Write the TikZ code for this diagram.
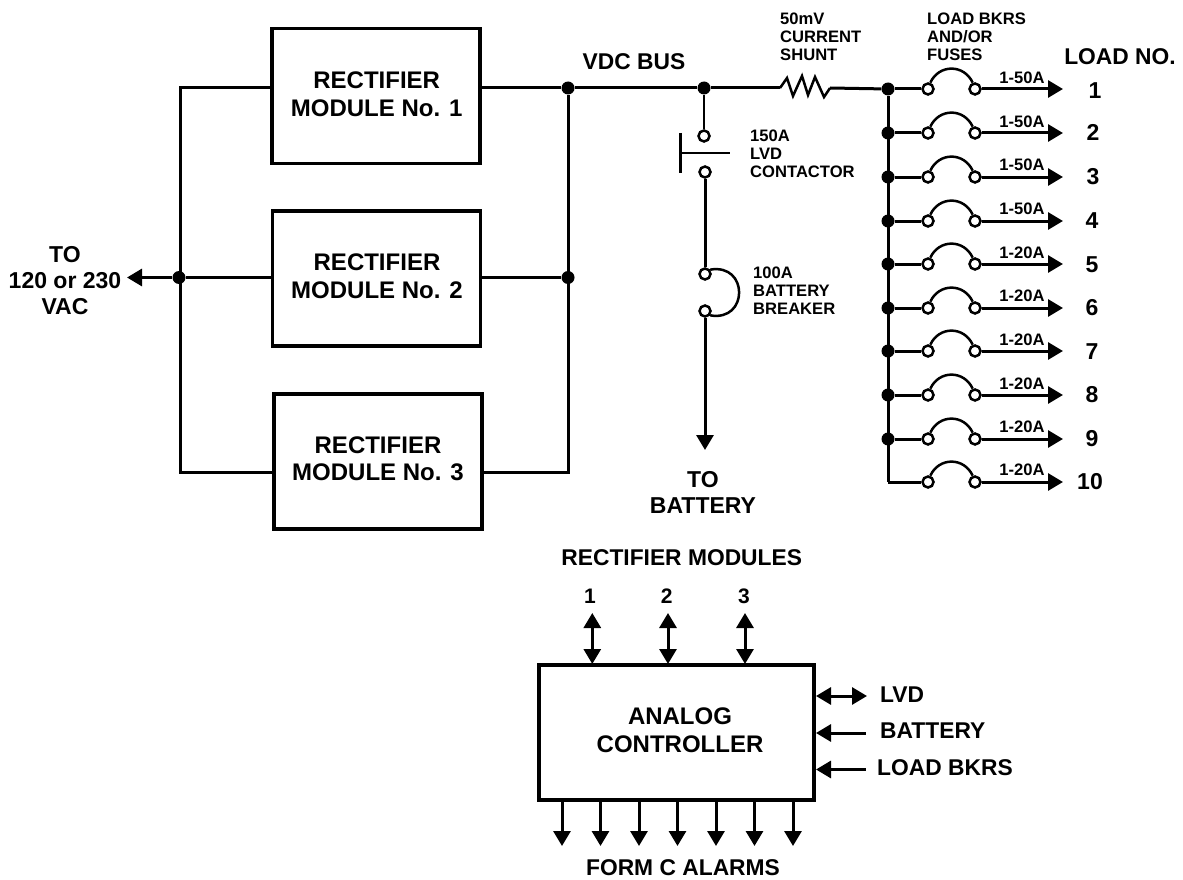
\documentclass[tikz,border=0pt]{standalone}
\usepackage{fontspec}
\setmainfont{Liberation Sans}
\usetikzlibrary{arrows.meta}

\tikzset{
  bigtxt/.style={font=\bfseries\fontsize{23}{26}\selectfont,inner sep=0pt,align=center},
  boxtxt/.style={font=\bfseries\fontsize{24}{27.5}\selectfont,inner sep=0pt,align=center},
  midtxt/.style={font=\bfseries\fontsize{22.8}{26}\selectfont,inner sep=0pt,align=center},
  numtxt/.style={font=\bfseries\fontsize{21}{24}\selectfont,inner sep=0pt},
  smalltxt/.style={font=\bfseries\fontsize{16.6}{18}\selectfont,inner sep=0pt,align=left,anchor=west},
  amptxt/.style={font=\bfseries\fontsize{16.6}{18}\selectfont,inner sep=0pt},
  modbox/.style={draw,line width=3.3pt,inner sep=0pt},
  jdot/.style={circle,fill=black,minimum size=13pt,inner sep=0pt},
  term/.style={circle,draw,line width=2.5pt,minimum size=11pt,inner sep=0pt},
  wire/.style={line width=3pt},
  thin wire/.style={line width=2.5pt},
  >={Triangle[length=15pt,width=17pt]}
}

\begin{document}
\begin{tikzpicture}[x=1pt,y=1pt]
\useasboundingbox (0,0) rectangle (1183,-880);
% rectifier modules
\node [modbox,minimum width=208pt,minimum height=135pt] (mod1) at (376,-96) {};
\node [modbox,minimum width=208pt,minimum height=135pt] (mod2) at (376.5,-278.5) {};
\node [modbox,minimum width=208pt,minimum height=135pt] (mod3) at (378,-461.5) {};
\node [boxtxt] (modtxt1) at (376.7,-94) {RECTIFIER\\MODULE No. 1};
\node [boxtxt] (modtxt2) at (377,-276) {RECTIFIER\\MODULE No. 2};
\node [boxtxt] (modtxt3) at (378,-458.7) {RECTIFIER\\MODULE No. 3};
\coordinate (m1w) at (272,-88);
\coordinate (m2w) at (272,-277.5);
\coordinate (m3w) at (274,-472);
\coordinate (m1e) at (480,-88);
\coordinate (m2e) at (480.5,-277.5);
\coordinate (m3e) at (482,-472);
\coordinate (acT) at (180,-88);
\coordinate (acB) at (180,-472);
\coordinate (dcB) at (568,-472);
\coordinate (acTip) at (127,-277.5);
\node [jdot] (jac) at (179,-277.5) {};
\node [jdot] (jdc1) at (568,-88) {};
\node [jdot] (jdc2) at (568,-277.5) {};
\draw [wire] (m1w) -- (acT) -- (acB) -- (m3w);
\draw [wire] (jac) -- (m2w);
\draw [wire,->] (jac) -- (acTip);
\draw [wire] (m1e) -- (jdc1);
\draw [wire] (jdc1) -- (dcB) -- (m3e);
\draw [wire] (jdc2) -- (m2e);
\node [bigtxt] (ac) at (65,-280.5) {TO\\120 or 230\\VAC};
\node [midtxt] (vdc) at (634,-62) {VDC BUS};
% shunt
\node [jdot] (jlvd) at (704,-88) {};
\node [jdot] (j1) at (888,-89) {};
\coordinate (shL) at (780,-88);
\coordinate (shR) at (830,-88);
\draw [wire] (jdc1) -- (jlvd);
\draw [wire] (jlvd) -- (shL);
\draw [thin wire] (shL) -- (787,-78) -- (793,-96) -- (802,-76) -- (808,-95) -- (815,-77) -- (824,-97) -- (shR);
\draw [wire] (shR) -- (j1);
\node [smalltxt] (shtxt) at (780,-37) {50mV\\CURRENT\\SHUNT};
% battery branch
\node [term] (lvdA) at (704,-136) {};
\node [term] (lvdB) at (705,-172) {};
\node [term] (brkA) at (705,-274) {};
\node [term] (brkB) at (705,-311) {};
\coordinate (barT) at (680,-133);
\coordinate (barB) at (680,-173);
\coordinate (barM) at (680,-153);
\coordinate (barE) at (730,-153);
\coordinate (batTip) at (705,-450);
\draw [thin wire] (jlvd) -- (lvdA);
\draw [wire] (barT) -- (barB);
\draw [thin wire] (barM) -- (barE);
\draw [wire] (lvdB) -- (brkA);
\draw [thin wire] (brkA.40) to [out=10,in=-10,looseness=2.2] (brkB.-40);
\draw [wire,->] (brkB) -- (batTip);
\node [smalltxt] (lvdtxt) at (750,-154) {150A\\LVD\\CONTACTOR};
\node [smalltxt] (brktxt) at (753,-291) {100A\\BATTERY\\BREAKER};
\node [bigtxt] (battxt) at (703,-492) {TO\\BATTERY};
% load breakers
\node [smalltxt] (bkrtxt) at (927,-37) {LOAD BKRS\\AND/OR\\FUSES};
\node [midtxt] (loadtxt) at (1120,-57) {LOAD NO.};
\node [jdot] (j2) at (888,-133) {};
\node [jdot] (j3) at (888,-177) {};
\node [jdot] (j4) at (888,-221) {};
\node [jdot] (j5) at (888,-264) {};
\node [jdot] (j6) at (888,-308) {};
\node [jdot] (j7) at (888,-351) {};
\node [jdot] (j8) at (888,-395) {};
\node [jdot] (j9) at (888,-439) {};
\coordinate (j10) at (888,-482);
\draw [wire] (j1) -- (j10);
\node [term] (a1) at (928,-89) {};
\node [term] (b1) at (975,-89) {};
\coordinate (t1) at (1063,-89);
\draw [wire] (j1) -- (a1);
\draw [thin wire] (a1.70) to [out=65,in=115,looseness=1.25] (b1.110);
\draw [wire,->] (b1) -- (t1);
\node [amptxt] (amp1) at (1022,-78) {1-50A};
\node [bigtxt] (n1) at (1095,-91) {1};
\node [term] (a2) at (928,-133) {};
\node [term] (b2) at (975,-133) {};
\coordinate (t2) at (1063,-133);
\draw [wire] (j2) -- (a2);
\draw [thin wire] (a2.70) to [out=65,in=115,looseness=1.25] (b2.110);
\draw [wire,->] (b2) -- (t2);
\node [amptxt] (amp2) at (1022,-122) {1-50A};
\node [bigtxt] (n2) at (1093,-132) {2};
\node [term] (a3) at (928,-177) {};
\node [term] (b3) at (975,-177) {};
\coordinate (t3) at (1063,-177);
\draw [wire] (j3) -- (a3);
\draw [thin wire] (a3.70) to [out=65,in=115,looseness=1.25] (b3.110);
\draw [wire,->] (b3) -- (t3);
\node [amptxt] (amp3) at (1022,-165) {1-50A};
\node [bigtxt] (n3) at (1093,-177) {3};
\node [term] (a4) at (928,-221) {};
\node [term] (b4) at (975,-221) {};
\coordinate (t4) at (1063,-221);
\draw [wire] (j4) -- (a4);
\draw [thin wire] (a4.70) to [out=65,in=115,looseness=1.25] (b4.110);
\draw [wire,->] (b4) -- (t4);
\node [amptxt] (amp4) at (1022,-209) {1-50A};
\node [bigtxt] (n4) at (1092,-221) {4};
\node [term] (a5) at (928,-264) {};
\node [term] (b5) at (975,-264) {};
\coordinate (t5) at (1063,-264);
\draw [wire] (j5) -- (a5);
\draw [thin wire] (a5.70) to [out=65,in=115,looseness=1.25] (b5.110);
\draw [wire,->] (b5) -- (t5);
\node [amptxt] (amp5) at (1022,-253) {1-20A};
\node [bigtxt] (n5) at (1092,-265) {5};
\node [term] (a6) at (928,-308) {};
\node [term] (b6) at (975,-308) {};
\coordinate (t6) at (1063,-308);
\draw [wire] (j6) -- (a6);
\draw [thin wire] (a6.70) to [out=65,in=115,looseness=1.25] (b6.110);
\draw [wire,->] (b6) -- (t6);
\node [amptxt] (amp6) at (1022,-296) {1-20A};
\node [bigtxt] (n6) at (1092,-308) {6};
\node [term] (a7) at (928,-351) {};
\node [term] (b7) at (975,-351) {};
\coordinate (t7) at (1063,-351);
\draw [wire] (j7) -- (a7);
\draw [thin wire] (a7.70) to [out=65,in=115,looseness=1.25] (b7.110);
\draw [wire,->] (b7) -- (t7);
\node [amptxt] (amp7) at (1022,-340) {1-20A};
\node [bigtxt] (n7) at (1092,-352) {7};
\node [term] (a8) at (928,-395) {};
\node [term] (b8) at (975,-395) {};
\coordinate (t8) at (1063,-395);
\draw [wire] (j8) -- (a8);
\draw [thin wire] (a8.70) to [out=65,in=115,looseness=1.25] (b8.110);
\draw [wire,->] (b8) -- (t8);
\node [amptxt] (amp8) at (1022,-384) {1-20A};
\node [bigtxt] (n8) at (1092,-395) {8};
\node [term] (a9) at (928,-439) {};
\node [term] (b9) at (975,-439) {};
\coordinate (t9) at (1063,-439);
\draw [wire] (j9) -- (a9);
\draw [thin wire] (a9.70) to [out=65,in=115,looseness=1.25] (b9.110);
\draw [wire,->] (b9) -- (t9);
\node [amptxt] (amp9) at (1022,-427) {1-20A};
\node [bigtxt] (n9) at (1092,-439) {9};
\node [term] (a10) at (928,-482) {};
\node [term] (b10) at (975,-482) {};
\coordinate (t10) at (1063,-482);
\draw [wire] (j10) -- (a10);
\draw [thin wire] (a10.70) to [out=65,in=115,looseness=1.25] (b10.110);
\draw [wire,->] (b10) -- (t10);
\node [amptxt] (amp10) at (1022,-470) {1-20A};
\node [bigtxt] (n10) at (1090,-482) {10};
% controller
\node [modbox,minimum width=275pt,minimum height=135pt] (ctl) at (676.5,-732.5) {};
\node [boxtxt] (ctltxt) at (680,-730) {ANALOG\\CONTROLLER};
\node [midtxt] (modtxt) at (681.7,-558) {RECTIFIER MODULES};
\node [numtxt] (mn1) at (590,-596) {1};
\node [numtxt] (mn2) at (666.7,-596) {2};
\node [numtxt] (mn3) at (744,-596) {3};
\coordinate (up1) at (592.3,-613);
\coordinate (dn1) at (592.3,-664);
\coordinate (up2) at (668,-613);
\coordinate (dn2) at (668,-664);
\coordinate (up3) at (745,-613);
\coordinate (dn3) at (745,-664);
\draw [wire,<->] (up1) -- (dn1);
\draw [wire,<->] (up2) -- (dn2);
\draw [wire,<->] (up3) -- (dn3);
\coordinate (rlvdA) at (816,-696);
\coordinate (rlvdB) at (867,-696);
\coordinate (rbatA) at (816,-733);
\coordinate (rbatB) at (866,-733);
\coordinate (rbkrA) at (816,-769.5);
\coordinate (rbkrB) at (866,-769.5);
\draw [wire,<->] (rlvdA) -- (rlvdB);
\draw [wire,<-] (rbatA) -- (rbatB);
\draw [wire,<-] (rbkrA) -- (rbkrB);
\node [midtxt,anchor=west] (lvdlab) at (880,-695) {LVD};
\node [midtxt,anchor=west] (batlab) at (880,-731) {BATTERY};
\node [midtxt,anchor=west] (bkrlab) at (877,-768) {LOAD BKRS};
\coordinate (al1) at (562,-846);
\coordinate (al2) at (600.5,-846);
\coordinate (al3) at (639,-846);
\coordinate (al4) at (677.5,-846);
\coordinate (al5) at (716,-846);
\coordinate (al6) at (754.5,-846);
\coordinate (al7) at (793,-846);
\draw [wire,->] (al1 |- ctl.south) -- (al1);
\draw [wire,->] (al2 |- ctl.south) -- (al2);
\draw [wire,->] (al3 |- ctl.south) -- (al3);
\draw [wire,->] (al4 |- ctl.south) -- (al4);
\draw [wire,->] (al5 |- ctl.south) -- (al5);
\draw [wire,->] (al6 |- ctl.south) -- (al6);
\draw [wire,->] (al7 |- ctl.south) -- (al7);
\node [midtxt] (formtxt) at (683,-868) {FORM C ALARMS};
\end{tikzpicture}
\end{document}
